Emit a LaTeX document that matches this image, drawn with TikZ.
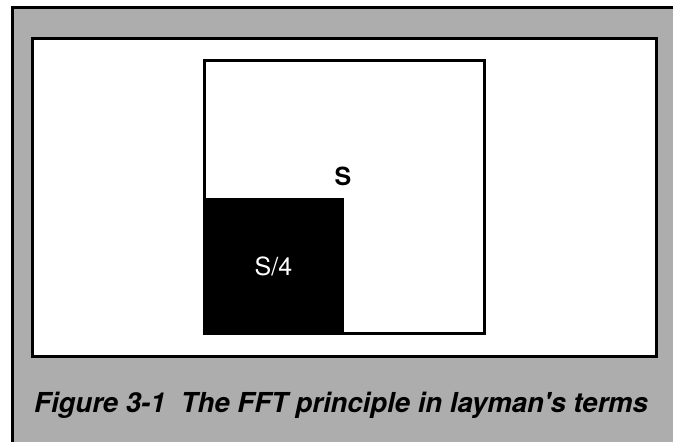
\documentclass[tikz,border=0pt]{standalone}
\usepackage{fontspec}
\setmainfont{TeX Gyre Heros}
\newfontfamily\capfont{TeX Gyre Heros}
\tikzset{
  frame/.style={line width=3pt, draw=black},
  dither/.style={fill=black!32},
  lbl/.style={inner sep=0pt, font=\fontsize{25}{25}\selectfont},
}
\begin{document}
\begin{tikzpicture}[x=1pt,y=-1pt]
\useasboundingbox (0,0) rectangle (673,442);
\fill[white] (0,0) rectangle (673,442);
% outer gray frame
\path[dither] (12,7) rectangle (673,442);
\draw[frame] (12,442) -- (12,7) -- (673,7);
% inner white panel
\filldraw[frame, fill=white] (32,38) rectangle (656,356);
% big square S
\node[frame, fill=white, minimum width=280pt, minimum height=273pt, anchor=north west, inner sep=0pt] (sq) at (203,59) {};
% black quarter square
\node[fill=black, draw=black, line width=1pt, minimum width=140pt, minimum height=136pt, anchor=south west, inner sep=0pt] (q) at (sq.south west) {};
\node[lbl, font=\fontsize{25}{25}\selectfont\bfseries] (s) at (343,176) {S};
\node[lbl, text=white] (s4) at (q.center) {S/4};
% caption
\node[anchor=base west, inner sep=0pt, font=\capfont\fontsize{27.5}{27.5}\selectfont\bfseries\itshape] (cap) at (34,412) {Figure 3-1\ \ The FFT principle in layman's terms};
\end{tikzpicture}
\end{document}
